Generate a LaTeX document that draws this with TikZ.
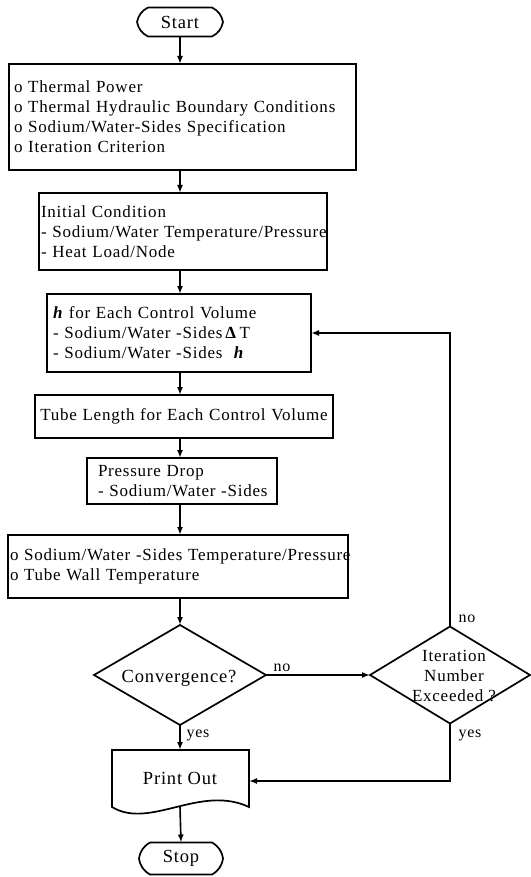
\documentclass[tikz,border=0pt]{standalone}
\usepackage{fontspec}
\setmainfont{Liberation Serif}[LetterSpace=4.5]
\usetikzlibrary{arrows.meta,shapes.geometric}
\newcommand\drawterm[1]{\draw[line width=1.7pt] ([xshift=11pt]#1.north west) -- ([xshift=-11pt]#1.north east) to[bend left=25] (#1.east) to[bend left=25] ([xshift=-11pt]#1.south east) -- ([xshift=11pt]#1.south west) to[bend left=25] (#1.west) to[bend left=25] ([xshift=11pt]#1.north west);}
\begin{document}
\begin{tikzpicture}[x=1pt,y=-1pt,
  txt/.style={font=\fontsize{17}{20}\selectfont},
  big/.style={font=\fontsize{18.5}{22}\selectfont},
  box/.style={txt, draw, line width=1.7pt, rectangle, anchor=north west, align=left, inner ysep=0pt, outer sep=0pt},
  term/.style={big, inner sep=0pt, outer sep=0pt},
  conn/.style={line width=1.6pt, -{Latex[length=8pt,width=6pt]}},
  plain/.style={line width=1.7pt},
  dia/.style={draw, diamond, line width=1.7pt, inner sep=0pt, outer sep=0pt},
  lab/.style={font=\fontsize{16}{18}\selectfont, inner sep=0pt}
]
\useasboundingbox (0,0) rectangle (530,877);

% terminators
\node[term, minimum width=86pt, minimum height=29pt] (start) at (180,22) {Start};
\drawterm{start}

% process boxes
\node[box, inner xsep=5pt, text width=337pt, minimum height=106pt] (b1) at (9,64)
  {\mbox{o Thermal Power}\\\mbox{o Thermal Hydraulic Boundary Conditions}\\\mbox{o Sodium/Water-Sides Specification}\\\mbox{o Iteration Criterion}};
\node[box, inner xsep=2pt, text width=284pt, minimum height=77pt] (b2) at (39,193)
  {\mbox{Initial Condition}\\\mbox{- Sodium/Water Temperature/Pressure}\\\mbox{- Heat Load/Node}};
\node[box, inner xsep=6pt, text width=252pt, minimum height=78pt] (b3) at (47,294)
  {\mbox{\textbf{\textit{h}} for Each Control Volume}\\\mbox{- Sodium/Water -Sides\,\textbf{Δ}\,T}\\\mbox{- Sodium/Water -Sides\ \ \textbf{\textit{h}}}};
\node[box, align=center, inner xsep=4pt, text width=290pt, minimum height=43pt] (b4) at (35,395)
  {\mbox{Tube Length for Each Control Volume}};
\node[box, inner xsep=11pt, text width=168pt, minimum height=46pt] (b5) at (87,458)
  {\mbox{Pressure Drop}\\\mbox{- Sodium/Water -Sides}};
\node[box, inner xsep=2pt, text width=336pt, minimum height=63pt] (b6) at (8,535)
  {\mbox{o Sodium/Water -Sides Temperature/Pressure}\\\mbox{o Tube Wall Temperature}};

% decisions
\node[dia, minimum width=172pt, minimum height=100pt] (d1) at (180,675) {};
\node[big] (d1t) at (179,678) {Convergence?};
\node[dia, minimum width=160pt, minimum height=97pt] (d2) at (450,675) {};
\node[txt, align=center, inner sep=0pt] (d2t) at (454,676) {Iteration\\Number\\Exceeded ?};

% print out (document shape)
\node[inner sep=0pt, outer sep=0pt, minimum width=137pt, minimum height=62pt] (pr) at (180.5,781) {};
\draw[plain] (pr.north west) -- (pr.north east) -- ([yshift=5pt]pr.south east)
  .. controls (200,784) and (150,830) .. ([yshift=5pt]pr.south west) -- cycle;
\node[big] (prt) at (180,778) {Print Out};
\coordinate (prb) at (180,807);

\node[term, minimum width=84pt, minimum height=32pt] (stop) at (181,858.5) {Stop};
\drawterm{stop}

% connectors
\draw[conn] (start.south) -- (b1.north -| start);
\draw[conn] (b1.south -| start) -- (b2.north -| start);
\draw[conn] (b2.south -| start) -- (b3.north -| start);
\draw[conn] (b3.south -| start) -- (b4.north -| start);
\draw[conn] (b4.south -| start) -- (b5.north -| start);
\draw[conn] (b5.south -| start) -- (b6.north -| start);
\draw[conn] (b6.south -| start) -- (d1.north);
\draw[conn] (d1.south) -- (pr.north -| d1.south);
\draw[conn] (d1.east) -- (d2.west);
\draw[conn] (d2.north) |- (b3.east);
\draw[conn] (d2.south) |- (pr.east);
\draw[conn] (prb) -- (stop.north);

% labels
\node[lab] (no1) at (282,668) {no};
\node[lab] (no2) at (467,619) {no};
\node[lab] (yes1) at (198,735) {yes};
\node[lab] (yes2) at (470,735) {yes};
\end{tikzpicture}
\end{document}
